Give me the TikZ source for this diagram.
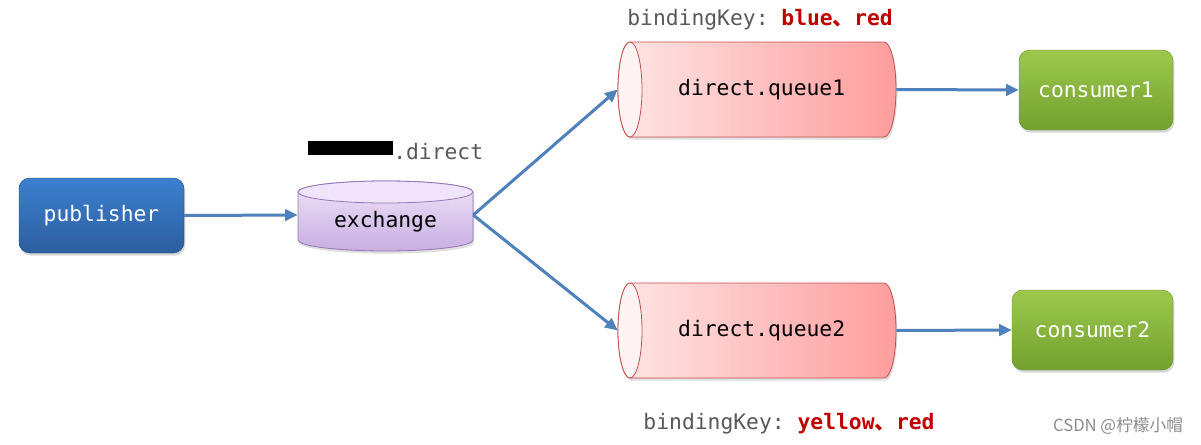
\documentclass[tikz,border=0pt]{standalone}
\usepackage{fontspec}
\setmonofont{DejaVu Sans Mono}
\newfontfamily\cjk{Noto Sans CJK SC}
\usetikzlibrary{arrows.meta,shadows}
\definecolor{arrowblue}{HTML}{4F81BD}
\definecolor{pubtop}{HTML}{3C80D0}
\definecolor{pubbot}{HTML}{2D5E9E}
\definecolor{contop}{HTML}{9CC94C}
\definecolor{conbot}{HTML}{74A030}
\definecolor{qleft}{HTML}{FFE6E6}
\definecolor{qright}{HTML}{FF9D9D}
\definecolor{qborder}{HTML}{C0504D}
\definecolor{qface}{HTML}{FFF3F3}
\definecolor{extop}{HTML}{EFE4F9}
\definecolor{exbot}{HTML}{C8AEE2}
\definecolor{exborder}{HTML}{9575B5}
\definecolor{keygray}{HTML}{595959}
\definecolor{keyred}{HTML}{C00000}
\definecolor{markgray}{HTML}{8C8C8C}
\newcommand{\hcyl}[3]{%
  \path[draw=qborder, line width=0.6pt, left color=qleft, right color=qright,
        drop shadow={opacity=0.25, shadow xshift=1pt, shadow yshift=-2pt}]
    (#1+12,#3+47.5) -- (#2-12,#3+47.5)
    arc[start angle=90, end angle=-90, x radius=12, y radius=47.5]
    -- (#1+12,#3-47.5)
    arc[start angle=270, end angle=90, x radius=12, y radius=47.5] -- cycle;
  \path[draw=qborder, line width=0.6pt, fill=qface]
    (#1+12,#3) ellipse [x radius=12, y radius=47.5];
}
\begin{document}
\begin{tikzpicture}[x=0.75pt, y=0.75pt,
  font=\ttfamily\fontsize{16}{19}\selectfont,
  conn/.style={draw=arrowblue, line width=2.25pt, -{Triangle[length=9.5pt, width=8.5pt]}},
  rbox/.style={rounded corners=8pt, text=white,
    drop shadow={opacity=0.3, shadow xshift=1pt, shadow yshift=-2pt}},
  pubbox/.style={rbox, top color=pubtop, bottom color=pubbot, draw=pubbot!80!black, line width=0.3pt},
  conbox/.style={rbox, top color=contop, bottom color=conbot, draw=conbot!90!black, line width=0.3pt},
  anchorbox/.style={inner sep=0pt},
  keylabel/.style={text=keygray, inner sep=0pt},
]
\path[use as bounding box, fill=white] (0,0) rectangle (1201,444);

% exchange cylinder
\path[draw=exborder, line width=0.6pt, top color=extop, bottom color=exbot,
      drop shadow={opacity=0.25, shadow xshift=1pt, shadow yshift=-2pt}]
  (298,252) -- (298,204)
  arc[start angle=180, end angle=360, x radius=87.5, y radius=11]
  -- (473,252)
  arc[start angle=0, end angle=180, x radius=87.5, y radius=11] -- cycle;
\path[draw=exborder, line width=0.6pt, fill=extop]
  (385.5,252) ellipse [x radius=87.5, y radius=11];

% queues
\hcyl{618}{896}{354.5}
\hcyl{618}{896}{113.5}

% nodes
\node[pubbox, minimum width=123.75pt, minimum height=56.25pt] (pub) at (101.5,228.5) {publisher};
\node[anchorbox, minimum width=131.25pt, minimum height=30pt, text height=22pt, text depth=4pt] (ex) at (385.5,229) {exchange};
\node[anchorbox, minimum width=208.5pt, minimum height=71.25pt] (q1) at (757,354.5) {\hspace{7pt}direct.queue1};
\node[anchorbox, minimum width=208.5pt, minimum height=71.25pt] (q2) at (757,113.5) {\hspace{7pt}direct.queue2};
\node[conbox, minimum width=115.5pt, minimum height=60pt] (c1) at (1096,354) {consumer1};
\node[conbox, minimum width=120.75pt, minimum height=60pt] (c2) at (1092.5,114) {consumer2};

% labels
\fill[black] (308,289) rectangle (393,303);
\node[keylabel, anchor=west] (exname) at (393,292) {.direct};
\node[keylabel] (bk1) at (760,424) {bindingKey: \textbf{\color{keyred}blue{\cjk 、}red}};
\node[keylabel] (bk2) at (789,20) {bindingKey: \textbf{\color{keyred}yellow{\cjk 、}red}};
\node[text=markgray, inner sep=0pt] (mark) at (1118,18) {\cjk\fontsize{12.5}{15}\selectfont CSDN @柠檬小帽};

% connectors
\draw[conn] (pub.east) -- (ex.west);
\draw[conn] (ex.east) -- (q1.west);
\draw[conn] (ex.east) -- (q2.west);
\draw[conn] (q1.east) -- (c1.west);
\draw[conn] (q2.east) -- (c2.west);
\end{tikzpicture}
\end{document}
